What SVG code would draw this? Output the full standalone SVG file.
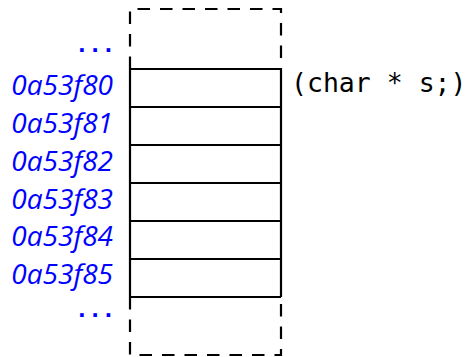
<svg xmlns="http://www.w3.org/2000/svg" width="469" height="357" viewBox="0 0 469 357">
<style>
.addr{font-family:"Open Sans","Noto Sans",sans-serif;font-style:italic;font-size:28px;fill:#0000ff;text-anchor:end}
.dots{font-family:"DejaVu Sans Mono",monospace;font-size:22px;font-weight:bold;fill:#0000ff;text-anchor:end}
.code{font-family:"DejaVu Sans Mono",monospace;font-size:26.5px;fill:#000}
.solid{stroke:#000;stroke-width:2.2;fill:none}
.dash{stroke:#000;stroke-width:2.2;fill:none;stroke-dasharray:12.5 10}
</style>
<g id="connectors">
<path class="dash" d="M130,69 V9 H281 V69"/>
<path class="dash" d="M130,297 V355 H281 V297"/>
</g>
<g id="memory">
<path class="solid" d="M130,69 V297 M281,69 V297"/>
<path class="solid" d="M130,69 H281 M130,107 H281 M130,145 H281 M130,183 H281 M130,221 H281 M130,259 H281 M130,297 H281"/>
</g>
<g id="labels">
<text class="dots" x="115" y="52">...</text>
<text class="addr" x="113" y="95">0a53f80</text>
<text class="addr" x="113" y="133">0a53f81</text>
<text class="addr" x="113" y="171">0a53f82</text>
<text class="addr" x="113" y="208.5">0a53f83</text>
<text class="addr" x="113" y="246">0a53f84</text>
<text class="addr" x="113" y="283.5">0a53f85</text>
<text class="dots" x="115" y="316.5">...</text>
</g>
<g id="annotation">
<text class="code" x="291" y="92">(char * s;)</text>
</g>
</svg>
